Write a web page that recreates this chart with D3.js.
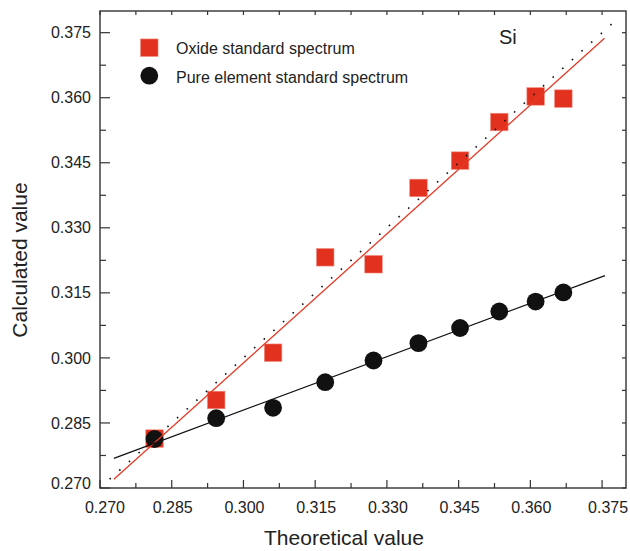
<!DOCTYPE html>
<html>
<head>
<meta charset="utf-8">
<script src="https://cdn.jsdelivr.net/npm/d3@7"></script>
<style>
  html, body { margin: 0; padding: 0; background: #fff; }
  svg { display: block; font-family: "Liberation Sans", Arial, sans-serif; }
</style>
</head>
<body>
<svg id="chart" width="630" height="551"></svg>
<script>
// Theoretical values (shared by both series)
const theoretical = [0.2814, 0.2943, 0.3062, 0.3171, 0.3272, 0.3366, 0.3453, 0.3535, 0.3611, 0.3669];
// Calculated values, oxide standard spectrum
const oxideValues = [0.2814, 0.2903, 0.3012, 0.3232, 0.3216, 0.3392, 0.3455, 0.3544, 0.3603, 0.3598];
// Calculated values, pure element standard spectrum
const pureValues = [0.2813, 0.2861, 0.2885, 0.2944, 0.2994, 0.3034, 0.3069, 0.3107, 0.3130, 0.3151];
// Linear fit end points [x, y]
const oxideFit = [[0.2729, 0.2720], [0.3755, 0.3737]];
const pureFit = [[0.2729, 0.27685], [0.3756, 0.3190]];
// Reference line y = x
const identityLine = [[0.2700, 0.2700], [0.3785, 0.3785]];
// Axis ticks
const majorTicks = [0.270, 0.285, 0.300, 0.315, 0.330, 0.345, 0.360, 0.375];
const minorTicks = [0.2775, 0.2925, 0.3075, 0.3225, 0.3375, 0.3525, 0.3675];
const seriesNames = ["Oxide standard spectrum", "Pure element standard spectrum"];

const RED = "#e2321f";
const BLACK = "#111111";
const AXIS = "#333333";
const TEXT = "#222222";

const svg = d3.select("#chart");
const plotLeft = 100, plotRight = 626, plotTop = 11, plotBottom = 488;

const x = d3.scaleLinear().domain([0.270, 0.380]).range([plotLeft, plotRight]);
const y = d3.scaleLinear().domain([0.270, 0.380]).range([plotBottom, plotTop]);
const fmt = d3.format(".3f");

// Inward ticks on all four sides
function tickLines(g, vals, side, len) {
  vals.forEach(v => {
    let x1, x2, y1, y2;
    if (side === "bottom") { x1 = x2 = x(v); y1 = plotBottom; y2 = plotBottom - len; }
    if (side === "top") { x1 = x2 = x(v); y1 = plotTop; y2 = plotTop + len; }
    if (side === "left") { y1 = y2 = y(v); x1 = plotLeft; x2 = plotLeft + len; }
    if (side === "right") { y1 = y2 = y(v); x1 = plotRight; x2 = plotRight - len; }
    g.append("line").attr("x1", x1).attr("x2", x2).attr("y1", y1).attr("y2", y2)
      .attr("stroke", AXIS).attr("stroke-width", 1.2);
  });
}

// Markers
const oxide = theoretical.map((t, i) => ({ x: t, y: oxideValues[i] }));
const pure = theoretical.map((t, i) => ({ x: t, y: pureValues[i] }));
const sq = 17.5;

svg.append("g").selectAll("rect").data(oxide).join("rect")
  .attr("x", d => x(d.x) - sq / 2).attr("y", d => y(d.y) - sq / 2)
  .attr("width", sq).attr("height", sq)
  .attr("fill", RED).attr("stroke", "#f08a7e").attr("stroke-width", 0.6);

svg.append("g").selectAll("circle").data(pure).join("circle")
  .attr("cx", d => x(d.x)).attr("cy", d => y(d.y)).attr("r", 8.9)
  .attr("fill", BLACK);

// Lines
const line = d3.line().x(d => x(d[0])).y(d => y(d[1]));
svg.append("path").attr("d", line(identityLine)).attr("fill", "none")
  .attr("stroke", "#111").attr("stroke-width", 1.6).attr("stroke-dasharray", "1.6 11.4");
svg.append("path").attr("d", line(oxideFit)).attr("fill", "none")
  .attr("stroke", "#e63a26").attr("stroke-width", 1.3);
svg.append("path").attr("d", line(pureFit)).attr("fill", "none")
  .attr("stroke", BLACK).attr("stroke-width", 1.3);

// Frame
svg.append("rect").attr("x", plotLeft).attr("y", plotTop)
  .attr("width", plotRight - plotLeft).attr("height", plotBottom - plotTop)
  .attr("fill", "none").attr("stroke", AXIS).attr("stroke-width", 1.4);

const ticks = svg.append("g");
tickLines(ticks, majorTicks, "bottom", 8);
tickLines(ticks, minorTicks, "bottom", 5);
tickLines(ticks, majorTicks, "left", 10);
tickLines(ticks, minorTicks, "left", 6);
tickLines(ticks, majorTicks, "top", 4);
tickLines(ticks, minorTicks, "top", 4);
tickLines(ticks, majorTicks, "right", 4);
tickLines(ticks, minorTicks, "right", 4);

// Tick labels
svg.append("g").selectAll("text").data(majorTicks).join("text")
  .attr("x", (d, i) => x(d) + (i === 0 ? 5 : i === majorTicks.length - 1 ? 6 : 1))
  .attr("y", 513)
  .attr("text-anchor", "middle").attr("font-size", "16px").attr("fill", TEXT)
  .text(fmt);

svg.append("g").selectAll("text").data(majorTicks).join("text")
  .attr("x", 91)
  .attr("y", (d, i) => y(d) + (i === 0 ? -5 : 0))
  .attr("dy", "0.35em")
  .attr("text-anchor", "end").attr("font-size", "16px").attr("fill", TEXT)
  .text(fmt);

// Axis titles
svg.append("text").attr("x", 344).attr("y", 545)
  .attr("text-anchor", "middle").attr("font-size", "21px").attr("fill", TEXT)
  .text("Theoretical value");
svg.append("text").attr("transform", "translate(27,260) rotate(-90)")
  .attr("text-anchor", "middle").attr("font-size", "21px").attr("fill", TEXT)
  .text("Calculated value");

// Element label
svg.append("text").attr("x", 499).attr("y", 44)
  .attr("font-size", "20px").attr("fill", TEXT).text("Si");

// Legend
const lg = svg.append("g");
lg.append("rect").attr("x", 149.3 - sq / 2).attr("y", 47.7 - sq / 2)
  .attr("width", sq).attr("height", sq).attr("fill", RED)
  .attr("stroke", "#f08a7e").attr("stroke-width", 0.6);
lg.append("circle").attr("cx", 149.3).attr("cy", 75.7).attr("r", 8.9).attr("fill", BLACK);
lg.append("text").attr("x", 176).attr("y", 54).attr("font-size", "16px").attr("fill", TEXT)
  .text(seriesNames[0]);
lg.append("text").attr("x", 176).attr("y", 83).attr("font-size", "16px").attr("fill", TEXT)
  .text(seriesNames[1]);
</script>
</body>
</html>
